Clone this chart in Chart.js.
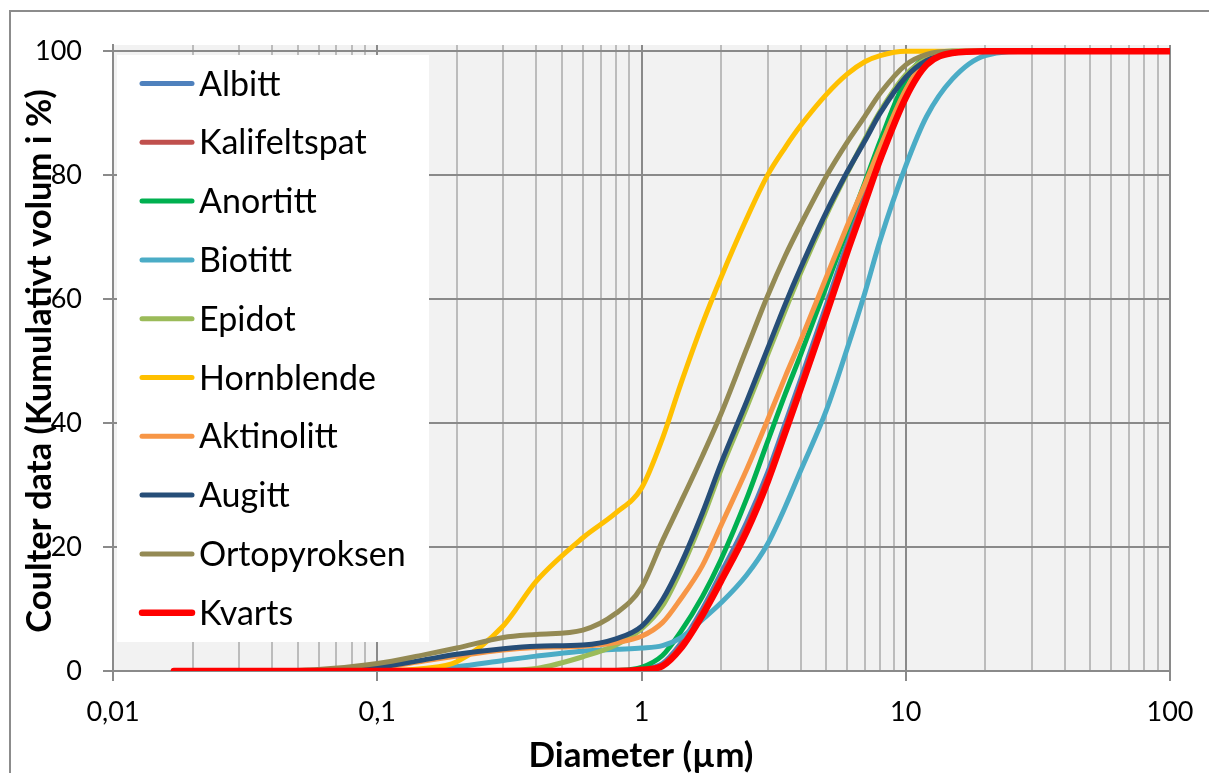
<!DOCTYPE html>
<html>
<head>
<meta charset="utf-8">
<title>Coulter data</title>
<script src="https://cdn.jsdelivr.net/npm/chart.js@4.4.1/dist/chart.umd.min.js"></script>
<style>
  body { margin: 0; background: #fff; }
  #wrap { width: 1209px; height: 773px; position: relative; }
</style>
</head>
<body>
<div id="wrap"><canvas id="grainChart" width="1209" height="773"></canvas></div>
<script>
// Kumulativ kornfordeling (Coulter), diameter i µm og kumulativt volum i %
const diameters = [0.017, 0.05, 0.1, 0.15, 0.2, 0.3, 0.4, 0.6, 0.8, 1, 1.2, 1.4, 1.7, 2, 2.5, 3, 3.5, 4, 5, 6, 7, 8, 10, 12, 15, 20, 30, 100];

const albitt       = [0, 0, 0, 0, 0, 0, 0, 0, 0, 0.3, 1.2, 4.3, 10, 15.8, 24, 32, 40, 47, 59, 69, 77, 83.8, 93.3, 98.2, 99.8, 100, 100, 100];
const kalifeltspat = [0, 0, 0, 0, 0, 0, 0, 0, 0, 0.2, 1, 3.9, 9.5, 15.1, 23.2, 31.2, 39.2, 46.2, 58.2, 68.2, 76.2, 83.1, 92.9, 98, 99.7, 100, 100, 100];
const anortitt     = [0, 0, 0, 0, 0, 0, 0, 0, 0.1, 0.6, 2.5, 6.2, 12, 18, 27.8, 37, 44.7, 51, 62, 71.2, 78.8, 85.5, 95.3, 99.2, 100, 100, 100, 100];
const biotitt      = [0, 0, 0, 0.2, 0.7, 1.7, 2.4, 3.2, 3.5, 3.7, 4.1, 5.3, 8.3, 11, 15.5, 20.5, 26.5, 32.3, 42, 52, 61, 69.5, 81.5, 89.5, 95.5, 99.3, 100, 100];
const epidot       = [0, 0, 0, 0, 0, 0.1, 0.4, 2.3, 4.2, 6.8, 10.5, 16, 24.5, 32.5, 42.5, 51, 58.2, 64.2, 73.5, 80.3, 85.8, 90.3, 96.2, 98.8, 99.8, 100, 100, 100];
const hornblende   = [0, 0, 0.05, 0.4, 1.5, 7.3, 14.5, 21.5, 25.5, 29.5, 37.5, 46, 56, 63.5, 73, 80, 84.5, 88, 93, 96.3, 98.3, 99.3, 100, 100, 100, 100, 100, 100];
const aktinolitt   = [0, 0.05, 0.5, 1.6, 2.4, 3.4, 3.8, 4, 4.6, 5.6, 7.8, 11.5, 17, 23.5, 32.5, 40.5, 47.5, 53.3, 63.5, 71.8, 78.5, 84.5, 93.8, 98.5, 99.8, 100, 100, 100];
const augitt       = [0, 0.05, 0.6, 1.8, 2.7, 3.6, 4, 4.2, 5.2, 7.2, 11.5, 17, 25.5, 33.5, 43.5, 52, 59.2, 65, 74, 80.5, 85.5, 90, 95.8, 98.5, 99.7, 100, 100, 100];
const ortopyroksen = [0, 0.1, 1.2, 2.6, 3.7, 5.4, 5.9, 6.6, 9.3, 13.5, 21, 27, 34.7, 41.5, 52, 60.5, 67, 72, 79.8, 85.3, 89.5, 93.2, 97.8, 99.5, 100, 100, 100, 100];
const kvarts       = [0, 0, 0, 0, 0, 0, 0, 0, 0, 0.2, 0.8, 3.5, 9, 14.5, 22.5, 30.5, 38.5, 45.5, 57.5, 67.5, 75.5, 82.5, 92.5, 97.8, 99.7, 100, 100, 100];

const mineralNames = ["Albitt", "Kalifeltspat", "Anortitt", "Biotitt", "Epidot", "Hornblende", "Aktinolitt", "Augitt", "Ortopyroksen", "Kvarts"];
const mineralSeries = [albitt, kalifeltspat, anortitt, biotitt, epidot, hornblende, aktinolitt, augitt, ortopyroksen, kvarts];
const mineralColors = ["#4f81bd", "#c0504d", "#00b050", "#4bacc6", "#9bbb59", "#ffc000", "#f79646", "#264e78", "#948a54", "#ff0000"];

const yTicks = [0, 20, 40, 60, 80, 100];
const xDecades = [0.01, 0.1, 1, 10, 100];
const xTickLabels = ["0,01", "0,1", "1", "10", "100"];

const FONT = "Lato";
const GRID_MAJOR = "#8a8a8a";
const GRID_MINOR = "#bcbcbc";

// log grid: 1..9 in each decade
const xGrid = [];
xDecades.forEach((d, i) => {
  if (i === xDecades.length - 1) { xGrid.push(d); return; }
  for (let k = 1; k <= 9; k++) xGrid.push(+(d * k).toPrecision(6));
});

function isDecade(v) {
  const l = Math.log10(v);
  return Math.abs(l - Math.round(l)) < 1e-9;
}

const datasets = mineralSeries.map((vals, i) => ({
  label: mineralNames[i],
  data: diameters.map((d, j) => ({ x: d, y: vals[j] })),
  borderColor: mineralColors[i],
  backgroundColor: mineralColors[i],
  borderWidth: i === mineralSeries.length - 1 ? 6.5 : 5,
  pointRadius: 0,
  fill: false,
  cubicInterpolationMode: "monotone",
  order: mineralSeries.length - i
}));

// grey plot area and the outer frame
const plotBackground = {
  id: "plotBackground",
  beforeDraw(chart) {
    const { ctx, chartArea: a } = chart;
    ctx.save();
    ctx.fillStyle = "#ffffff";
    ctx.fillRect(0, 0, chart.width, chart.height);
    ctx.fillStyle = "#f2f2f2";
    ctx.fillRect(a.left, a.top, a.right - a.left, a.bottom - a.top);
    ctx.strokeStyle = "#8c8c8c";
    ctx.lineWidth = 2;
    ctx.strokeRect(10, 11, 1260, 820);
    ctx.restore();
  }
};

// legend box inside the plot + axis titles
const overlay = {
  id: "overlay",
  afterDraw(chart) {
    const { ctx } = chart;
    ctx.save();

    ctx.fillStyle = "#ffffff";
    ctx.fillRect(117, 55, 312, 587);
    ctx.font = `34px ${FONT}`;
    ctx.textAlign = "left";
    ctx.textBaseline = "alphabetic";
    chart.data.datasets.forEach((ds, i) => {
      const y = 83.5 + i * 58.8;
      ctx.strokeStyle = ds.borderColor;
      ctx.lineWidth = ds.borderWidth;
      ctx.lineCap = "round";
      ctx.beginPath();
      ctx.moveTo(142, y);
      ctx.lineTo(192, y);
      ctx.stroke();
      ctx.fillStyle = "#000";
      ctx.fillText(ds.label, 199, y + 12);
    });

    ctx.fillStyle = "#000";
    ctx.font = `bold 35px ${FONT}`;
    ctx.textAlign = "center";
    ctx.fillText("Diameter (µm)", 641, 767);

    ctx.font = `bold 34.5px ${FONT}`;
    ctx.translate(51, 361);
    ctx.rotate(-Math.PI / 2);
    ctx.fillText("Coulter data (Kumulativt volum i %)", 0, 0);
    ctx.restore();
  }
};

new Chart(document.getElementById("grainChart"), {
  type: "line",
  data: { datasets },
  plugins: [plotBackground, overlay],
  options: {
    responsive: false,
    animation: false,
    layout: { padding: { left: 0, right: 39, top: 45, bottom: 0 } },
    plugins: { legend: { display: false }, tooltip: { enabled: false } },
    elements: { line: { borderCapStyle: "round", borderJoinStyle: "round" } },
    scales: {
      x: {
        type: "logarithmic",
        min: 0.01,
        max: 100,
        afterBuildTicks: s => { s.ticks = xGrid.map(v => ({ value: v })); },
        afterFit: s => { s.height = 102; },
        ticks: {
          autoSkip: false,
          maxRotation: 0,
          padding: 15,
          color: "#000",
          font: { family: FONT, size: 27 },
          callback: v => isDecade(v) ? xTickLabels[Math.round(Math.log10(v)) + 2] : ""
        },
        grid: {
          lineWidth: 2,
          tickLength: 10,
          color: c => isDecade(c.tick.value) ? GRID_MAJOR : GRID_MINOR,
          tickColor: c => isDecade(c.tick.value) ? GRID_MAJOR : "rgba(0,0,0,0)"
        },
        border: { color: GRID_MAJOR, width: 2 }
      },
      y: {
        min: 0,
        max: 101,
        afterBuildTicks: s => { s.ticks = yTicks.map(v => ({ value: v })); },
        afterFit: s => { s.width = 113; },
        ticks: {
          padding: 21,
          color: "#000",
          font: { family: FONT, size: 27 }
        },
        grid: { lineWidth: 2, tickLength: 10, color: GRID_MAJOR, tickColor: GRID_MAJOR },
        border: { color: GRID_MAJOR, width: 2 }
      }
    }
  }
});
</script>
</body>
</html>
